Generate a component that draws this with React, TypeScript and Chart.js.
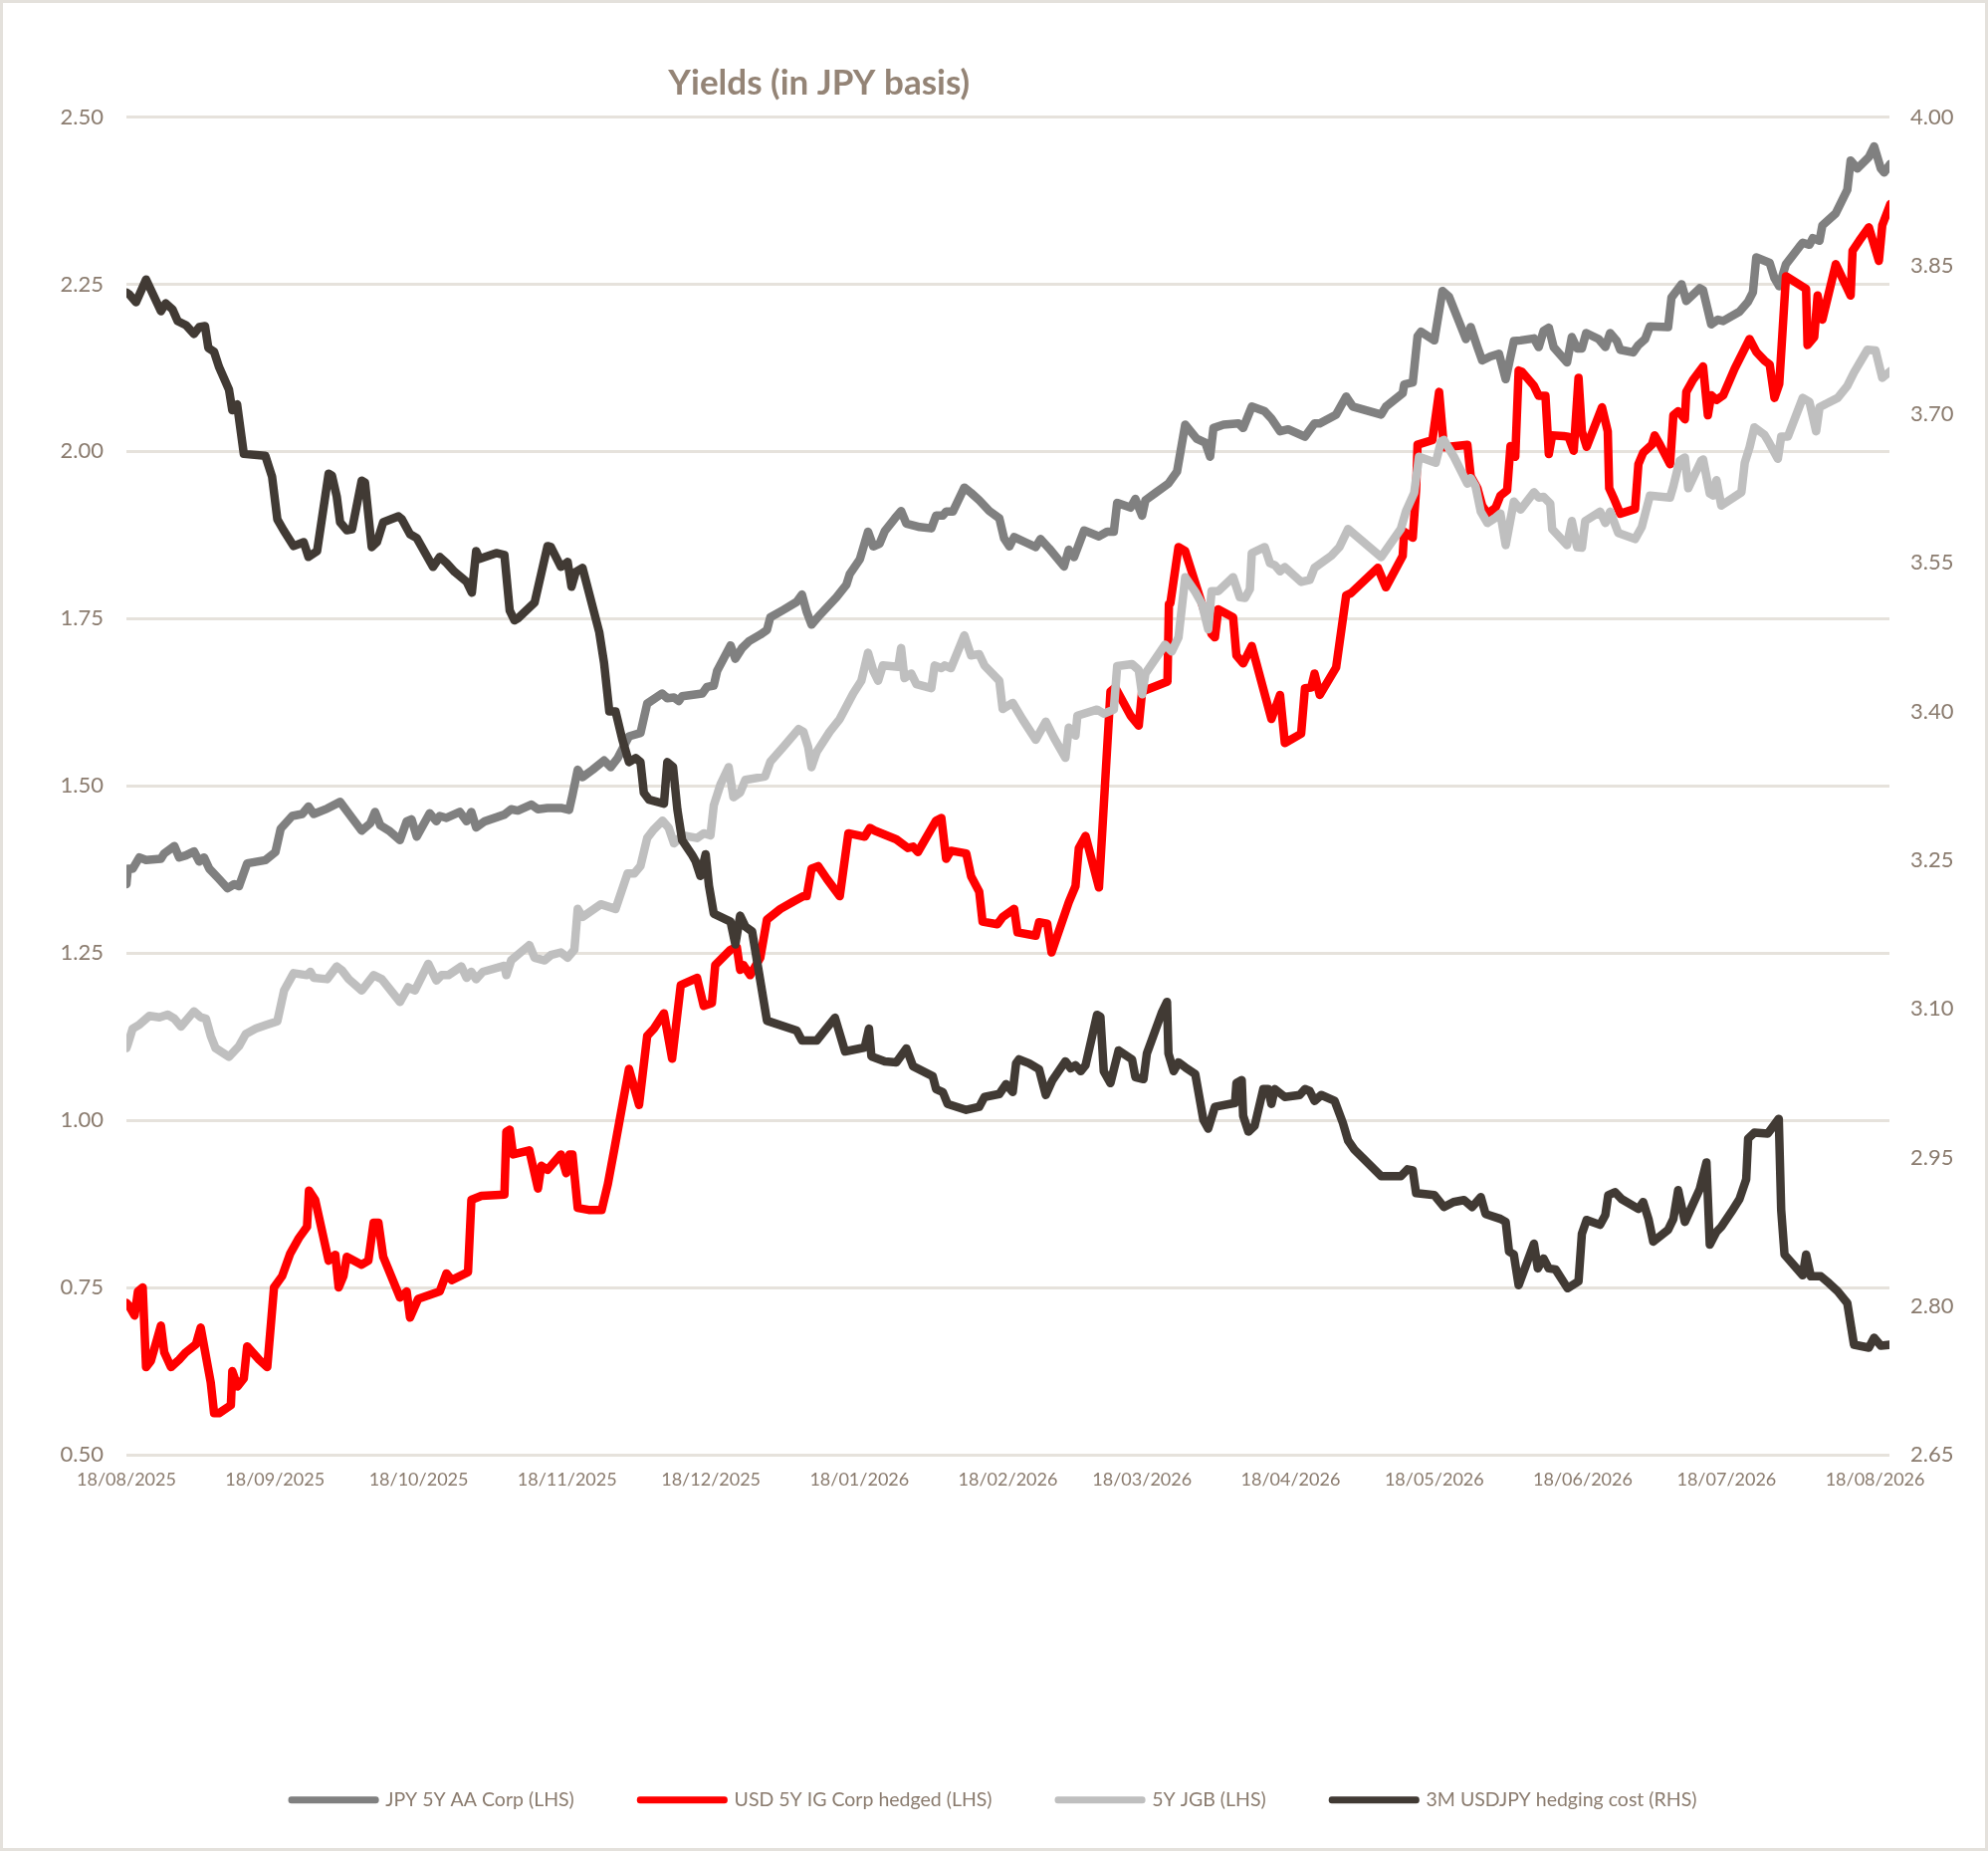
import React, { useEffect, useRef } from 'react';
import { Chart, registerables } from 'chart.js';

Chart.register(...registerables);

const titleText = 'Yields (in JPY basis)';
const seriesNames = [
  'JPY 5Y AA Corp (LHS)',
  'USD 5Y IG Corp hedged (LHS)',
  '5Y JGB (LHS)',
  '3M USDJPY hedging cost (RHS)',
];
const seriesColors = ['#808080', '#ff0000', '#bfbfbf', '#413a34'];

// x = days since 18/08/2025
const monthTickDays = [0, 31, 61, 92, 122, 153, 184, 212, 243, 273, 304, 334, 365];
const monthTickLabels = [
  '18/08/2025', '18/09/2025', '18/10/2025', '18/11/2025', '18/12/2025', '18/01/2026',
  '18/02/2026', '18/03/2026', '18/04/2026', '18/05/2026', '18/06/2026', '18/07/2026', '18/08/2026',
];
const leftTicks = [0.5, 0.75, 1.0, 1.25, 1.5, 1.75, 2.0, 2.25, 2.5];
const rightTicks = [2.65, 2.8, 2.95, 3.1, 3.25, 3.4, 3.55, 3.7, 3.85, 4.0];

const jpyCorpDays = [0,0.3,1.3,2.7,4.1,7.2,7.9,10.0,11.0,12.4,14.1,15.2,16.2,17.3,19.3,21.1,22.5,23.5,25.2,29.0,31.1,32.2,34.6,36.7,38.0,39.1,41.9,44.6,47.1,49.1,50.9,51.9,53.0,55.0,57.1,58.5,59.5,60.6,63.3,64.7,65.4,66.8,69.6,71.0,72.0,73.0,74.8,78.9,80.3,81.7,84.5,85.9,87.9,90.7,92.4,93.1,94.2,95.2,97.3,99.7,101.1,102.5,104.9,107.3,108.7,111.8,112.9,114.3,115.3,116.0,120.2,121.2,122.6,123.3,126.1,127.1,128.5,129.9,132.3,133.7,134.4,137.1,139.9,141.0,142.0,143.0,144.8,148.2,150.3,151.0,153.1,154.8,155.9,157.2,158.3,160.4,161.7,162.8,165.6,168.0,169.0,170.4,171.1,172.5,174.9,176.3,178.0,180.1,182.2,183.2,184.3,185.3,187.7,189.8,190.8,192.6,195.7,196.7,197.8,199.9,203.0,204.7,206.1,206.8,209.6,210.6,212.0,212.7,214.8,217.5,219.3,221.0,223.4,225.2,226.2,226.9,229.0,232.1,233.1,234.9,237.6,239.0,240.8,242.5,246.0,248.0,249.1,252.5,254.6,256.0,261.9,262.9,266.4,266.7,268.5,269.5,270.2,273.0,274.7,276.1,279.6,280.6,282.0,283.0,284.7,286.5,287.9,289.6,291.0,293.8,294.8,295.8,296.9,297.9,300.7,301.7,302.8,303.8,304.7,307.3,308.7,309.7,311.1,311.8,314.5,315.6,317.0,318.0,321.8,322.5,324.6,325.6,328.4,329.1,330.8,332.2,333.3,336.7,338.5,339.5,340.2,343.0,344.0,345.0,346.4,349.2,349.9,351.3,352.0,353.4,354.0,356.8,359.2,359.9,361.3,363.7,364.8,366.2,366.9,368.2];
const jpyCorpVals = [1.353,1.376,1.376,1.393,1.389,1.391,1.399,1.410,1.393,1.396,1.402,1.387,1.393,1.376,1.361,1.347,1.353,1.350,1.384,1.389,1.401,1.436,1.455,1.458,1.469,1.458,1.466,1.476,1.452,1.433,1.444,1.461,1.441,1.432,1.419,1.447,1.450,1.424,1.459,1.447,1.455,1.452,1.461,1.447,1.461,1.438,1.447,1.457,1.465,1.463,1.472,1.465,1.467,1.467,1.464,1.486,1.524,1.513,1.524,1.538,1.528,1.541,1.574,1.579,1.623,1.638,1.631,1.632,1.627,1.634,1.638,1.648,1.650,1.672,1.710,1.690,1.706,1.716,1.726,1.733,1.752,1.763,1.775,1.786,1.760,1.741,1.756,1.782,1.801,1.817,1.839,1.880,1.858,1.862,1.881,1.900,1.911,1.892,1.887,1.885,1.904,1.904,1.910,1.910,1.946,1.938,1.927,1.911,1.900,1.870,1.858,1.872,1.864,1.857,1.869,1.855,1.828,1.853,1.842,1.882,1.873,1.880,1.880,1.923,1.916,1.929,1.904,1.927,1.938,1.952,1.970,2.040,2.019,2.013,1.992,2.035,2.040,2.042,2.035,2.067,2.060,2.049,2.030,2.033,2.022,2.042,2.042,2.055,2.082,2.067,2.055,2.067,2.087,2.100,2.103,2.172,2.179,2.166,2.240,2.231,2.168,2.186,2.156,2.136,2.142,2.146,2.108,2.165,2.166,2.169,2.156,2.180,2.185,2.156,2.133,2.171,2.154,2.154,2.177,2.168,2.156,2.177,2.165,2.152,2.148,2.159,2.168,2.187,2.186,2.230,2.250,2.225,2.244,2.241,2.190,2.197,2.195,2.209,2.224,2.238,2.290,2.282,2.259,2.247,2.280,2.306,2.312,2.309,2.319,2.315,2.338,2.356,2.391,2.435,2.423,2.440,2.456,2.423,2.417,2.430];

const usdHedgedDays = [0,0.6,1.7,2.4,3.4,4.1,5.1,7.2,7.9,9.3,11.0,12.4,14.5,15.5,17.6,18.3,19.3,21.8,22.1,23.2,24.5,25.2,27.7,29.4,30.8,32.5,34.2,36.0,37.7,38.1,39.4,42.2,43.6,44.3,45.3,46.0,49.1,50.5,51.6,52.6,53.6,57.1,58.5,59.2,60.9,65.4,66.8,67.9,71.3,72.0,74.1,78.9,79.3,80.0,80.7,84.1,85.9,86.6,87.9,90.7,91.8,92.5,93.1,94.2,96.5,99.2,100.5,101.8,104.9,107.0,108.7,110.1,112.2,113.9,115.7,119.1,120.5,122.2,122.9,126.1,127.4,128.1,128.8,130.2,132.3,133.7,136.5,139.2,141.3,142.0,143.0,144.4,146.2,148.9,150.7,154.1,155.2,156.2,160.7,163.1,164.2,165.2,169.0,170.1,171.1,172.1,175.3,176.3,178.0,178.7,181.8,182.9,185.3,186.0,189.8,190.5,192.2,193.1,196.7,198.1,198.8,200.2,203.0,205.4,206.4,209.6,211.3,212.0,217.3,217.6,217.9,219.6,221.0,224.5,226.5,227.2,227.9,231.0,231.7,233.1,234.9,239.0,240.8,241.8,245.2,246.0,247.3,248.0,249.1,252.5,254.6,255.6,261.2,262.9,266.4,266.7,268.5,269.2,269.5,272.6,274.0,275.0,279.9,280.6,282.0,283.0,284.1,285.8,286.8,288.2,288.9,289.9,290.6,291.3,293.8,294.8,296.2,296.9,297.6,300.0,301.0,302.1,303.1,303.8,304.8,308.0,309.2,309.5,310.4,311.8,314.9,315.6,316.6,318.4,319.0,320.1,322.2,322.9,323.9,325.3,325.6,327.0,329.1,330.1,330.8,331.9,333.3,335.7,338.8,340.2,341.9,343.0,344.0,345.0,346.4,350.6,350.9,352.3,353.0,354.0,356.8,359.9,360.3,361.7,363.7,365.8,366.5,368.2];
const usdHedgedVals = [0.727,0.722,0.708,0.744,0.750,0.631,0.640,0.693,0.653,0.631,0.642,0.653,0.665,0.690,0.608,0.562,0.562,0.574,0.625,0.602,0.614,0.662,0.642,0.631,0.750,0.767,0.801,0.824,0.841,0.895,0.881,0.790,0.799,0.750,0.767,0.796,0.784,0.790,0.847,0.847,0.796,0.735,0.744,0.705,0.733,0.744,0.771,0.761,0.773,0.881,0.887,0.889,0.983,0.986,0.949,0.955,0.898,0.932,0.926,0.949,0.921,0.949,0.949,0.869,0.866,0.866,0.905,0.955,1.077,1.023,1.126,1.137,1.160,1.092,1.202,1.213,1.171,1.175,1.232,1.255,1.259,1.225,1.232,1.217,1.243,1.300,1.316,1.327,1.335,1.335,1.376,1.380,1.361,1.335,1.429,1.424,1.437,1.433,1.420,1.407,1.409,1.401,1.448,1.452,1.391,1.403,1.399,1.365,1.342,1.297,1.293,1.304,1.316,1.281,1.276,1.296,1.294,1.251,1.326,1.350,1.407,1.425,1.348,1.641,1.647,1.605,1.590,1.641,1.656,1.772,1.773,1.857,1.851,1.772,1.727,1.722,1.764,1.752,1.695,1.683,1.709,1.600,1.636,1.564,1.578,1.646,1.647,1.668,1.636,1.677,1.785,1.788,1.826,1.797,1.844,1.880,1.871,1.943,2.010,2.017,2.089,2.006,2.010,1.963,1.945,1.919,1.907,1.916,1.934,1.942,2.008,1.992,2.121,2.119,2.098,2.083,2.083,1.996,2.024,2.023,2.022,2.001,2.110,2.030,2.007,2.066,2.030,1.945,1.931,1.907,1.914,1.981,1.998,2.010,2.024,2.010,1.981,2.054,2.060,2.048,2.089,2.107,2.127,2.054,2.084,2.077,2.084,2.124,2.168,2.149,2.136,2.130,2.080,2.101,2.262,2.243,2.159,2.171,2.233,2.197,2.280,2.233,2.300,2.315,2.335,2.285,2.338,2.370];

const jgbDays = [0,0.3,1.3,2.7,4.8,6.9,8.6,10.0,11.4,14.1,15.5,16.6,17.6,18.6,21.4,23.5,24.9,27.0,29.4,31.5,32.9,34.9,37.7,38.4,39.1,41.9,43.9,45.0,46.4,49.1,51.6,53.3,57.1,58.8,60.2,63.0,64.7,65.8,67.2,69.9,71.0,72.0,73.0,74.4,78.9,79.3,80.3,84.1,85.2,87.3,88.6,90.7,91.8,92.1,93.5,94.2,95.2,99.0,100.8,102.1,104.6,106.0,107.3,108.7,110.1,111.9,113.2,114.3,116.0,119.1,120.5,121.9,122.6,124.0,125.7,126.7,128.1,129.2,133.3,134.4,137.1,140.3,141.3,142.3,143.0,144.1,146.8,148.9,150.0,151.7,153.4,154.8,155.9,156.9,157.9,161.1,161.7,162.4,163.8,164.9,168.0,168.7,170.1,170.8,172.1,174.9,176.3,178.0,179.1,182.2,182.9,185.0,187.0,189.8,191.9,193.6,196.0,196.7,198.1,198.5,202.6,204.0,206.1,206.8,209.9,211.3,212.0,212.7,216.8,218.2,219.6,221.0,223.1,224.5,225.8,226.5,227.9,231.0,232.4,233.5,234.5,234.9,237.6,238.7,239.7,240.8,241.8,245.2,247.0,248.0,251.5,253.2,255.0,261.9,266.0,267.1,268.8,269.8,273.3,274.4,275.0,277.1,279.9,280.6,281.6,282.7,284.1,285.8,286.8,287.9,289.6,291.0,293.8,294.8,295.8,297.2,297.6,300.7,301.7,302.8,303.8,304.5,307.6,308.7,309.7,311.4,314.9,316.3,318.0,322.2,322.9,324.2,325.3,326.0,328.7,329.1,330.5,331.2,331.9,332.9,337.1,337.8,338.8,339.8,341.9,342.9,344.7,345.4,346.8,349.9,351.3,352.7,353.4,354.7,357.2,359.2,360.6,363.4,365.1,366.5,368.2];
const jgbVals = [1.108,1.114,1.137,1.143,1.156,1.154,1.158,1.152,1.140,1.163,1.154,1.152,1.126,1.108,1.095,1.111,1.129,1.137,1.143,1.148,1.194,1.220,1.217,1.222,1.213,1.211,1.230,1.224,1.211,1.194,1.217,1.211,1.177,1.199,1.194,1.234,1.209,1.217,1.217,1.230,1.213,1.222,1.211,1.222,1.231,1.217,1.239,1.262,1.243,1.239,1.247,1.251,1.245,1.243,1.255,1.316,1.304,1.323,1.319,1.316,1.369,1.369,1.380,1.422,1.435,1.448,1.437,1.414,1.426,1.422,1.429,1.426,1.471,1.502,1.528,1.483,1.490,1.509,1.514,1.536,1.558,1.585,1.581,1.558,1.528,1.551,1.581,1.600,1.615,1.638,1.657,1.699,1.672,1.657,1.680,1.678,1.706,1.661,1.668,1.652,1.646,1.680,1.676,1.680,1.676,1.725,1.695,1.697,1.680,1.657,1.615,1.624,1.600,1.569,1.596,1.572,1.542,1.587,1.575,1.605,1.614,1.608,1.614,1.679,1.682,1.673,1.637,1.668,1.711,1.701,1.722,1.812,1.790,1.772,1.734,1.791,1.791,1.812,1.782,1.781,1.794,1.848,1.857,1.833,1.830,1.821,1.827,1.805,1.808,1.826,1.844,1.857,1.884,1.842,1.884,1.911,1.938,1.992,1.983,2.015,2.017,1.992,1.952,1.960,1.948,1.910,1.893,1.901,1.907,1.860,1.925,1.913,1.939,1.931,1.932,1.922,1.884,1.860,1.896,1.857,1.856,1.896,1.910,1.893,1.910,1.878,1.869,1.887,1.934,1.931,1.948,1.986,1.991,1.945,1.986,1.988,1.937,1.934,1.957,1.919,1.939,1.983,2.006,2.036,2.025,2.013,1.989,2.022,2.022,2.080,2.074,2.030,2.066,2.071,2.080,2.098,2.118,2.152,2.151,2.110,2.120];

const hedgeCostDays = [0,0.6,2.0,4.1,7.2,8.2,9.6,10.7,12.4,14.1,15.2,16.4,17.1,18.3,19.3,21.4,22.1,23.1,24.5,29.0,30.4,31.5,32.8,34.9,37.0,38.0,39.8,42.2,42.9,43.9,44.6,46.0,47.1,49.1,49.8,51.2,52.3,53.6,56.8,57.5,59.2,60.6,64.0,65.4,66.8,68.5,71.0,72.1,73.0,73.7,77.2,78.9,80.0,81.0,81.7,85.2,87.9,88.6,90.7,92.1,92.9,93.8,95.2,98.7,99.7,100.8,102.1,103.5,104.9,106.3,107.3,108.0,109.1,112.2,112.9,114.1,115.0,116.0,118.1,118.8,119.8,120.9,121.6,122.6,126.1,127.1,128.1,129.2,130.6,133.7,139.9,141.0,144.1,147.9,150.0,153.1,154.1,155.0,155.5,158.3,160.7,162.8,164.2,168.3,169.0,170.4,171.4,175.3,178.0,179.1,182.2,183.6,185.0,185.7,186.3,188.4,190.5,191.9,193.3,196.0,197.1,198.1,199.2,200.2,202.6,203.3,204.0,205.4,207.1,209.9,210.6,212.3,213.0,216.1,217.2,217.5,218.6,219.6,221.0,223.1,224.8,225.8,227.2,231.4,231.7,232.8,233.1,234.2,235.5,237.3,238.3,239.0,239.7,241.8,244.9,246.0,247.0,248.0,249.4,252.2,253.9,255.0,256.3,261.9,266.0,267.4,268.5,269.2,273.0,275.0,277.0,279.2,280.9,282.7,283.7,286.8,287.9,288.6,289.6,290.6,293.8,294.6,295.8,296.9,298.3,300.8,303.1,303.8,304.8,307.6,308.7,309.3,310.7,312.1,315.6,316.6,317.7,318.7,321.8,322.9,323.9,325.3,328.4,329.8,330.5,331.9,332.9,335.0,336.7,338.1,338.5,339.8,342.6,344.9,345.4,346.1,349.9,350.6,351.6,353.7,355.4,357.2,359.2,360.6,363.7,364.8,366.2,368.2];
const hedgeCostVals = [3.823,3.821,3.813,3.836,3.804,3.812,3.806,3.794,3.790,3.781,3.788,3.789,3.767,3.763,3.748,3.725,3.704,3.710,3.660,3.658,3.637,3.594,3.583,3.567,3.571,3.556,3.562,3.640,3.638,3.617,3.591,3.583,3.584,3.633,3.631,3.566,3.571,3.591,3.597,3.594,3.579,3.575,3.546,3.556,3.550,3.541,3.531,3.520,3.562,3.554,3.560,3.558,3.502,3.492,3.494,3.510,3.567,3.566,3.546,3.551,3.526,3.541,3.545,3.480,3.449,3.400,3.400,3.372,3.349,3.353,3.349,3.318,3.311,3.307,3.349,3.344,3.301,3.270,3.255,3.249,3.234,3.256,3.224,3.196,3.188,3.165,3.194,3.183,3.178,3.088,3.078,3.068,3.068,3.091,3.057,3.060,3.061,3.080,3.052,3.047,3.046,3.060,3.042,3.032,3.019,3.016,3.004,2.998,3.001,3.011,3.014,3.024,3.016,3.045,3.049,3.045,3.039,3.013,3.028,3.047,3.040,3.043,3.037,3.043,3.094,3.092,3.037,3.025,3.058,3.049,3.031,3.029,3.055,3.096,3.107,3.055,3.037,3.046,3.041,3.034,2.988,2.979,3.001,3.005,3.025,3.028,2.992,2.976,2.982,3.019,3.019,3.004,3.019,3.011,3.013,3.019,3.017,3.007,3.013,3.007,2.985,2.967,2.958,2.931,2.931,2.938,2.937,2.914,2.912,2.900,2.905,2.907,2.900,2.910,2.893,2.888,2.885,2.855,2.852,2.821,2.863,2.838,2.848,2.838,2.837,2.818,2.825,2.873,2.887,2.882,2.892,2.912,2.915,2.908,2.898,2.905,2.888,2.865,2.877,2.888,2.917,2.885,2.918,2.945,2.862,2.875,2.880,2.895,2.908,2.928,2.969,2.975,2.974,2.989,2.897,2.852,2.831,2.852,2.830,2.830,2.823,2.815,2.803,2.761,2.758,2.768,2.760,2.761];

const FONT = "Lato, 'Open Sans', 'DejaVu Sans', sans-serif";
const TEXT_COLOR = '#8a7b6e';
const GRID_COLOR = '#e6e2dc';
const W = 1997;
const H = 1859;

const toPoints = (days: number[], vals: number[]) => days.map((d, i) => ({ x: d, y: vals[i] }));

const titlePlugin = {
  id: 'customTitle',
  afterDraw(chart: any) {
    const { ctx, width } = chart;
    ctx.save();
    ctx.font = `bold 35px ${FONT}`;
    ctx.fillStyle = '#948476';
    ctx.textAlign = 'center';
    ctx.textBaseline = 'alphabetic';
    ctx.fillText(titleText, width * 0.412, 95);
    ctx.restore();
  },
};

export default function App() {
  const canvasRef = useRef<HTMLCanvasElement | null>(null);

  useEffect(() => {
    const canvas = canvasRef.current;
    if (!canvas) return;
    const allDays = [jpyCorpDays, usdHedgedDays, jgbDays, hedgeCostDays];
    const allVals = [jpyCorpVals, usdHedgedVals, jgbVals, hedgeCostVals];
    const axisIds = ['y', 'y', 'y', 'y1'];
    const drawOrder = [4, 3, 2, 1];
    const defaultLabels = (Chart as any).defaults.plugins.legend.labels.generateLabels;

    const chart = new Chart(canvas, {
      type: 'line',
      data: {
        datasets: seriesNames.map((name, i) => ({
          label: name,
          data: toPoints(allDays[i], allVals[i]),
          yAxisID: axisIds[i],
          borderColor: seriesColors[i],
          backgroundColor: seriesColors[i],
          borderWidth: 8.5,
          pointRadius: 0,
          pointHoverRadius: 0,
          tension: 0,
          fill: false,
          borderJoinStyle: 'round',
          borderCapStyle: 'round',
          order: drawOrder[i],
        })),
      },
      options: {
        responsive: false,
        animation: false,
        devicePixelRatio: 1,
        layout: { padding: { top: 117.5, left: 0, right: 0, bottom: 31.5 } },
        plugins: {
          title: { display: false },
          tooltip: { enabled: false },
          legend: {
            display: true,
            position: 'bottom',
            labels: {
              boxWidth: 85,
              boxHeight: 1,
              padding: 66,
              color: TEXT_COLOR,
              font: { family: FONT, size: 19.5 },
              sort: (a: any, b: any) => a.datasetIndex - b.datasetIndex,
              generateLabels: (c: any) =>
                defaultLabels(c).map((item: any) => ({ ...item, lineWidth: 6 })),
            },
          },
        },
        scales: {
          x: {
            type: 'linear',
            min: 0,
            max: 368,
            grid: { display: false, drawTicks: false },
            border: { display: false },
            afterBuildTicks: (axis: any) => {
              axis.ticks = monthTickDays.map((v) => ({ value: v }));
            },
            afterFit: (axis: any) => {
              axis.height = 271;
            },
            ticks: {
              autoSkip: false,
              maxRotation: 0,
              minRotation: 0,
              padding: 14,
              color: TEXT_COLOR,
              font: { family: FONT, size: 18 },
              callback: (_v: any, index: number) => monthTickLabels[index],
            },
          },
          y: {
            type: 'linear',
            position: 'left',
            min: 0.5,
            max: 2.5,
            afterBuildTicks: (axis: any) => {
              axis.ticks = leftTicks.map((v) => ({ value: v }));
            },
            afterFit: (axis: any) => {
              axis.width = 127;
            },
            grid: { color: GRID_COLOR, lineWidth: 3, drawTicks: false },
            border: { display: false },
            ticks: {
              padding: 23,
              color: TEXT_COLOR,
              font: { family: FONT, size: 22 },
              callback: (v: any) => Number(v).toFixed(2),
            },
          },
          y1: {
            type: 'linear',
            position: 'right',
            min: 2.65,
            max: 4.0,
            afterBuildTicks: (axis: any) => {
              axis.ticks = rightTicks.map((v) => ({ value: v }));
            },
            afterFit: (axis: any) => {
              axis.width = 99;
            },
            grid: { display: false, drawTicks: false },
            border: { display: false },
            ticks: {
              padding: 21,
              color: TEXT_COLOR,
              font: { family: FONT, size: 22 },
              callback: (v: any) => Number(v).toFixed(2),
            },
          },
        },
      } as any,
      plugins: [titlePlugin],
    });
    return () => chart.destroy();
  }, []);

  return (
    <div style={{ position: 'fixed', left: 0, top: 0, width: W, height: H, background: '#ffffff' }}>
      <canvas ref={canvasRef} width={W} height={H} style={{ display: 'block', width: W, height: H }} />
      <div
        style={{
          position: 'absolute',
          left: 0,
          top: 0,
          width: W,
          height: H,
          boxSizing: 'border-box',
          border: '3px solid #e4e1dc',
          pointerEvents: 'none',
        }}
      />
    </div>
  );
}
